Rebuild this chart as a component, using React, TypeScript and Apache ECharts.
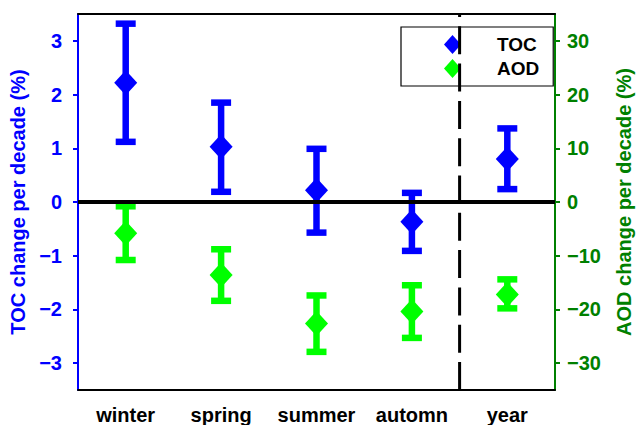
import React, { useEffect, useRef } from "react";
import * as echarts from "echarts";

// Seasonal trends with uncertainty ranges
const seasons = ["winter", "spring", "summer", "automn", "year"];

// Total ozone column, % per decade
const tocTrend = [2.22, 1.03, 0.22, -0.37, 0.8];
const tocLow = [1.12, 0.19, -0.57, -0.91, 0.24];
const tocHigh = [3.32, 1.85, 0.99, 0.17, 1.37];

// Aerosol optical depth, % per decade
const aodTrend = [-5.8, -13.6, -22.6, -20.4, -17.2];
const aodLow = [-10.8, -18.4, -27.9, -25.3, -19.8];
const aodHigh = [-0.8, -8.8, -17.4, -15.5, -14.4];

// Tick values for the two y axes
const tocTicks = [-3, -2, -1, 0, 1, 2, 3];
const aodTicks = [-30, -20, -10, 0, 10, 20, 30];

// The dashed separator sits between these two categories
const separatorBetween = ["automn", "year"];

const BLUE = "#0000ff";
const GREEN = "#00ff00";
const DARK_GREEN = "#008000";
const FONT = "'Liberation Sans', Arial, Helvetica, sans-serif";

const minus = (v: number | string) => String(v).replace("-", "\u2212");

function errorBarRenderer(color: string) {
  return (params: any, api: any) => {
    const x = api.value(0);
    const lo = api.coord([x, api.value(1)]);
    const hi = api.coord([x, api.value(2)]);
    const capHalf = 10;
    const style = { stroke: color, lineWidth: 6.5, lineCap: "butt" };
    return {
      type: "group",
      children: [
        { type: "line", shape: { x1: lo[0], y1: lo[1], x2: hi[0], y2: hi[1] }, style },
        { type: "line", shape: { x1: hi[0] - capHalf, y1: hi[1], x2: hi[0] + capHalf, y2: hi[1] }, style },
        { type: "line", shape: { x1: lo[0] - capHalf, y1: lo[1], x2: lo[0] + capHalf, y2: lo[1] }, style },
      ],
    };
  };
}

export default function App() {
  const ref = useRef<HTMLDivElement>(null);

  useEffect(() => {
    document.body.style.margin = "0";
    if (!ref.current) return;
    const chart = echarts.init(ref.current, undefined, { renderer: "svg" });

    const tocBars = seasons.map((s, i) => [s, tocLow[i], tocHigh[i]]);
    const aodBars = seasons.map((s, i) => [s, aodLow[i], aodHigh[i]]);

    const boldText = { fontFamily: FONT, fontWeight: "bold" as const, fontSize: 20 };
    const blackTick = { alignWithLabel: true, inside: false, length: 5, lineStyle: { color: "#000", width: 2 } };

    chart.setOption({
      animation: false,
      backgroundColor: "#fff",
      grid: { left: 78, right: 78, top: 14, bottom: 35, containLabel: false },
      legend: {
        orient: "vertical",
        left: 401,
        top: 27,
        padding: [8, 14, 8, 43],
        itemGap: 5,
        itemWidth: 17,
        itemHeight: 19,
        backgroundColor: "#fff",
        borderColor: "#000",
        borderWidth: 1.2,
        borderRadius: 0,
        data: [
          { name: "TOC", icon: "diamond" },
          { name: "AOD", icon: "diamond" },
        ],
        formatter: (name: string) => `{t|${name}}`,
        textStyle: {
          rich: {
            t: {
              fontFamily: FONT,
              fontWeight: "bold",
              fontSize: 19,
              color: "#000",
              padding: [0, 0, 0, 31],
              lineHeight: 19,
            },
          },
        },
      },
      xAxis: [
        {
          type: "category",
          data: seasons,
          position: "bottom",
          boundaryGap: true,
          axisLine: { onZero: false, lineStyle: { color: "#000", width: 2 } },
          axisTick: blackTick,
          axisLabel: { ...boldText, color: "#000", margin: 15, interval: 0 },
          splitLine: { show: false },
        },
        {
          type: "category",
          data: seasons,
          position: "top",
          boundaryGap: true,
          axisLine: { onZero: false, lineStyle: { color: "#000", width: 2 } },
          axisTick: blackTick,
          axisLabel: { show: false },
          splitLine: { show: false },
        },
      ],
      yAxis: [
        {
          type: "value",
          position: "left",
          min: -3.5,
          max: 3.5,
          name: "TOC change per decade (%)",
          nameLocation: "middle",
          nameGap: 43,
          nameTextStyle: { ...boldText, color: BLUE },
          axisLine: { show: true, onZero: false, lineStyle: { color: BLUE, width: 2 } },
          axisTick: { show: true, inside: false, length: 5, customValues: tocTicks, lineStyle: { color: BLUE, width: 2 } },
          axisLabel: { ...boldText, color: BLUE, margin: 16, customValues: tocTicks, formatter: minus },
          splitLine: { show: false },
        },
        {
          type: "value",
          position: "right",
          min: -35,
          max: 35,
          name: "AOD change per decade (%)",
          nameLocation: "middle",
          nameGap: 59,
          nameTextStyle: { ...boldText, color: DARK_GREEN },
          axisLine: { show: true, onZero: false, lineStyle: { color: DARK_GREEN, width: 2 } },
          axisTick: { show: true, inside: false, length: 5, customValues: aodTicks, lineStyle: { color: DARK_GREEN, width: 2 } },
          axisLabel: { ...boldText, color: DARK_GREEN, margin: 12, customValues: aodTicks, formatter: minus },
          splitLine: { show: false },
        },
      ],
      series: [
        {
          name: "TOC range",
          type: "custom",
          xAxisIndex: 0,
          yAxisIndex: 0,
          renderItem: errorBarRenderer(BLUE),
          encode: { x: 0, y: [1, 2] },
          data: tocBars,
          silent: true,
          z: 2,
        },
        {
          name: "AOD range",
          type: "custom",
          xAxisIndex: 0,
          yAxisIndex: 1,
          renderItem: errorBarRenderer(GREEN),
          encode: { x: 0, y: [1, 2] },
          data: aodBars,
          silent: true,
          z: 2,
        },
        {
          name: "TOC",
          type: "scatter",
          xAxisIndex: 0,
          yAxisIndex: 0,
          symbol: "diamond",
          symbolSize: [23, 25],
          itemStyle: { color: BLUE, opacity: 1 },
          data: seasons.map((s, i) => [s, tocTrend[i]]),
          z: 3,
          markLine: {
            silent: true,
            symbol: "none",
            label: { show: false },
            lineStyle: { color: "#000", width: 4, type: "solid" },
            data: [{ yAxis: 0 }],
          },
        },
        {
          name: "AOD",
          type: "scatter",
          xAxisIndex: 0,
          yAxisIndex: 1,
          symbol: "diamond",
          symbolSize: [23, 25],
          itemStyle: { color: GREEN, opacity: 1 },
          data: seasons.map((s, i) => [s, aodTrend[i]]),
          z: 3,
        },
        {
          name: "separator",
          type: "custom",
          xAxisIndex: 0,
          yAxisIndex: 0,
          silent: true,
          z: 6,
          encode: { x: [0, 1] },
          data: [separatorBetween],
          renderItem: (params: any, api: any) => {
            const a = api.coord([api.value(0), 0])[0];
            const b = api.coord([api.value(1), 0])[0];
            const x = (a + b) / 2;
            const cs = params.coordSys;
            return {
              type: "line",
              shape: { x1: x, y1: cs.y + cs.height, x2: x, y2: cs.y },
              style: { stroke: "#000", lineWidth: 3, lineDash: [28, 9.3] },
            };
          },
        },
      ],
    });

    return () => chart.dispose();
  }, []);

  return (
    <div
      ref={ref}
      style={{ position: "absolute", left: 0, top: 0, width: 642, height: 425, background: "#fff" }}
    />
  );
}
